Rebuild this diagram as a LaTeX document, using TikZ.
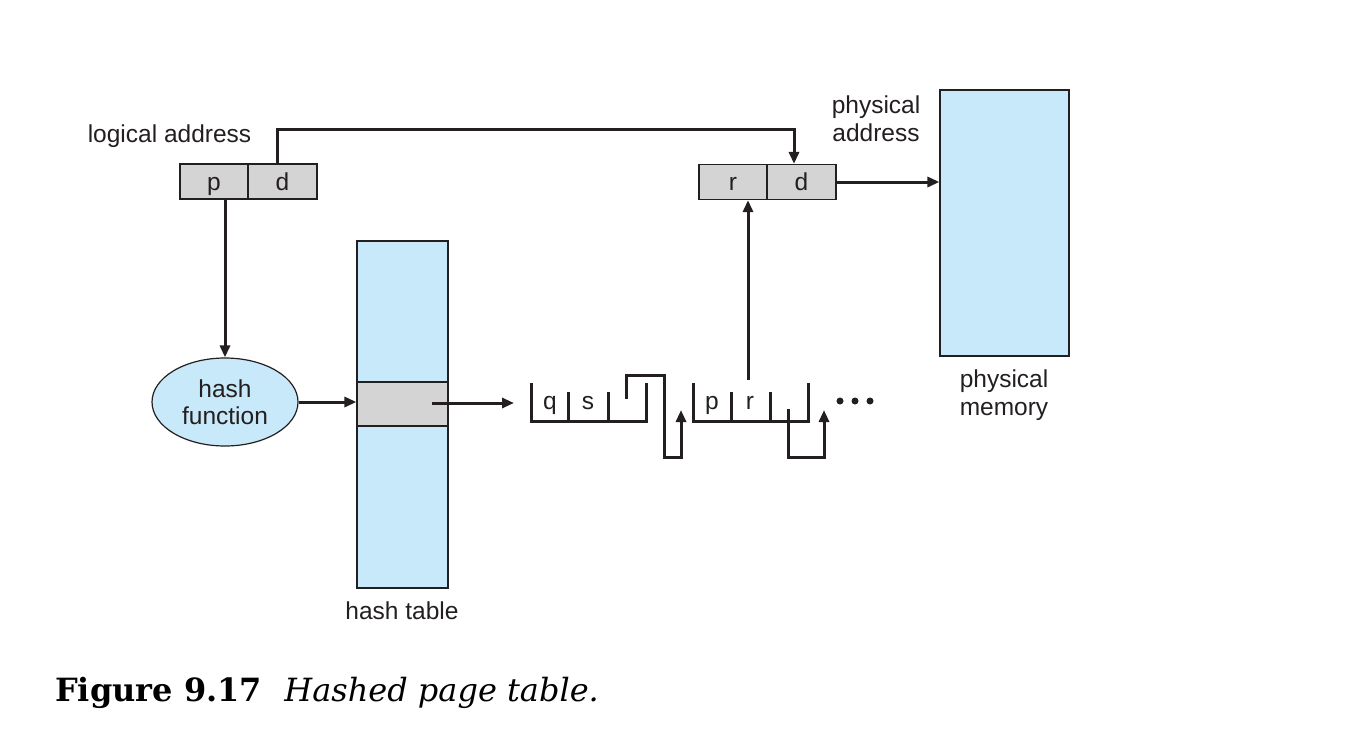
\documentclass[tikz,border=0pt]{standalone}
\usepackage{fontspec}
\setsansfont{Liberation Sans}
\newfontfamily\capfont{DejaVu Serif}
\usetikzlibrary{shapes.geometric,arrows.meta}
\definecolor{lblue}{HTML}{C8E9F9}
\definecolor{cgray}{HTML}{D4D4D4}
\definecolor{txt}{HTML}{231F20}
\begin{document}
\begin{tikzpicture}[x=1pt,y=-1pt,
  cell/.style={draw=txt, line width=1.2pt, fill=cgray, minimum height=35pt, inner sep=0pt,
    text height=17.5pt, text depth=0pt,
    font=\sffamily\fontsize{24.5}{29}\selectfont, text=txt},
  lab/.style={font=\sffamily\fontsize{24.5}{28}\selectfont, text=txt, align=center},
  let/.style={font=\sffamily\fontsize{24.5}{28}\selectfont, text=txt, anchor=base, inner sep=0pt},
  blk/.style={draw=txt, line width=1.2pt, fill=lblue, inner sep=0pt},
  conn/.style={line width=3pt, draw=txt},
  arr/.style={conn, -{Triangle[length=12pt,width=10pt]}},
]
\useasboundingbox (0,0) rectangle (1364,737);
% logical address
\node[cell, minimum width=68pt] (lp) at (214,181.5) {p};
\node[cell, minimum width=69pt] (ld) at (282.5,181.5) {d};
\node[lab] (lla) at (169.5,136) {logical address};
% physical address
\node[cell, minimum width=68pt] (pr) at (733,182) {r};
\node[cell, minimum width=69pt] (pd) at (801.5,182) {d};
\node[lab] (lpa) at (876,119) {physical\\address};
% physical memory
\node[blk, minimum width=129pt, minimum height=266pt] (mem) at (1004.5,223) {};
\node[lab] (lpm) at (1004,395.5) {physical\\memory};
% hash table
\node[blk, minimum width=91pt, minimum height=347pt] (ht) at (402.5,414.5) {};
\node[blk, fill=cgray, minimum width=91pt, minimum height=44pt] (hrow) at (402.5,404) {};
\node[lab] (lht) at (402,611) {hash table};
% hash function
\node[blk, ellipse, minimum width=146pt, minimum height=88pt, align=center,
  font=\sffamily\fontsize{24.5}{27}\selectfont, text=txt] (hf) at (225,402) {hash\\function};
% connectors
\draw[arr] ([xshift=-5.5pt]ld.north) -- ++(0,-34) -| ([xshift=-7.5pt]pd.north);
\draw[arr] (pd.east) -- (mem.west |- pd.east);
\draw[arr] (lp.south -| hf.north) -- (hf.north);
\draw[arr] (hf.east) -- (ht.west |- hf.east);
\coordinate (e1) at (514,403);
\draw[arr] (e1 -| 432,0) -- (e1);
% chain element 1
\draw[conn] (531,383) -- (531,421) -- (646,421) -- (646,383);
\draw[conn] (568,392) -- (568,421);
\draw[conn] (608,392) -- (608,421);
\node[let] (tq) at (550,409) {q};
\node[let] (ts) at (588,409) {s};
\draw[arr] (626,399) -- (626,375) -- (664,375) -- (664,457) -- (681,457) -- (681,410);
% chain element 2
\draw[conn] (693,383) -- (693,421) -- (808,421) -- (808,383);
\draw[conn] (731,392) -- (731,421);
\draw[conn] (770,392) -- (770,421);
\node[let] (tp) at (712,409) {p};
\node[let] (tr) at (750,409) {r};
\coordinate (e2) at (748,380);
\draw[arr] (e2) -- (e2 |- pr.south);
\draw[arr] (788,409) -- (788,457) -- (824,457) -- (824,410);
% dots
\fill[txt] (840,401) circle (3.5pt) (855,401) circle (3.5pt) (870,401) circle (3.5pt);
% caption
\node[anchor=base west, inner sep=0pt, text=black, font=\capfont\fontsize{32}{38}\selectfont] (cap) at (55,701)
  {\textbf{Figure 9.17}\hspace{0.7em}\textit{Hashed page table.}};
\end{tikzpicture}
\end{document}
